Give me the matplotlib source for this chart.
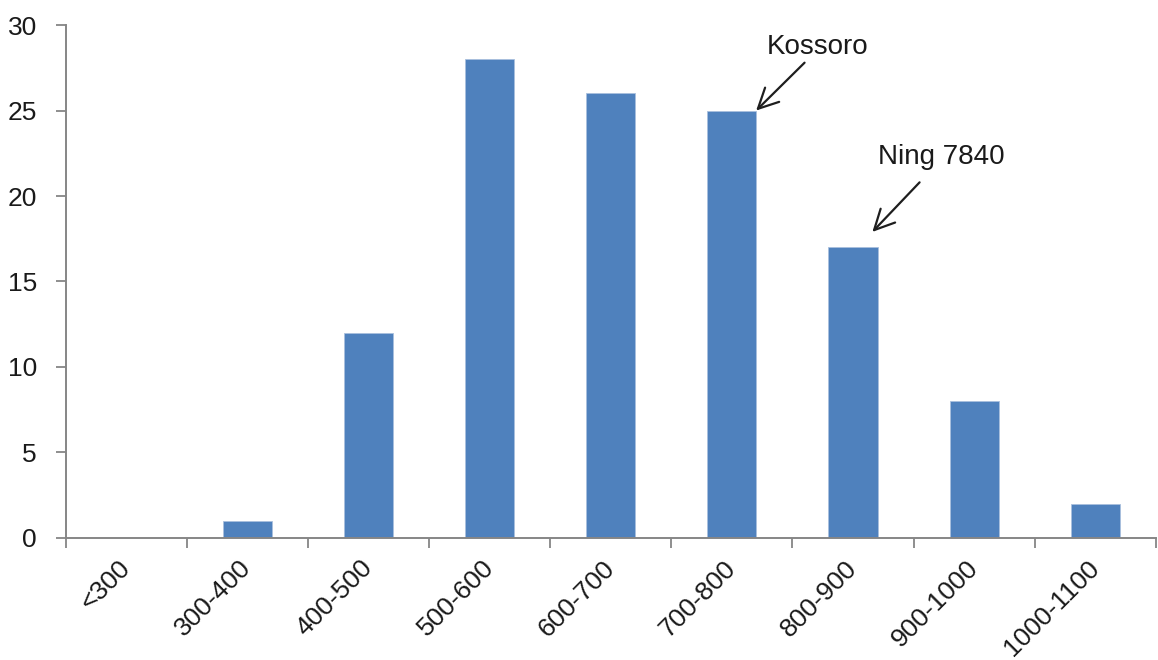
import numpy as np
import matplotlib
matplotlib.use("Agg")
import matplotlib.pyplot as plt

plt.rcParams['font.family'] = ['Liberation Sans', 'DejaVu Sans']

# size classes and counts
categories = ['<300', '300-400', '400-500', '500-600', '600-700',
              '700-800', '800-900', '900-1000', '1000-1100']
counts = [0, 1, 12, 28, 26, 25, 17, 8, 2]
y_ticks = [0, 5, 10, 15, 20, 25, 30]

# labelled varieties: text and the bar it points at
note_labels = ['Kossoro', 'Ning 7840']
note_bars = [5, 6]

bar_color = '#4f81bd'
axis_color = '#868686'
text_color = '#1a1a1a'

fig = plt.figure(figsize=(11.58, 6.6), dpi=100)
ax = fig.add_axes([0.057, 0.185, 0.941, 0.777])

x = np.arange(len(categories))
ax.bar(x, counts, width=0.405, color=bar_color, edgecolor='#a9c0de',
       linewidth=0.6, zorder=2)

ax.set_xlim(-0.5, len(categories) - 0.5)
ax.set_ylim(0, 30)

# ticks on the class boundaries, labels in the middle of each class
ax.set_xticks(np.arange(len(categories) + 1) - 0.5)
ax.set_xticklabels([])
ax.set_xticks(x, minor=True)
ax.set_xticklabels(categories, minor=True, rotation=45, ha='right',
                   va='center', rotation_mode='anchor')
ax.tick_params(axis='x', which='major', direction='out', length=7,
               width=1.3, color=axis_color)
ax.tick_params(axis='x', which='minor', length=0, pad=19,
               labelsize=19, labelcolor=text_color)

ax.set_yticks(y_ticks)
ax.tick_params(axis='y', direction='out', length=7, width=1.3,
               color=axis_color, pad=14, labelsize=19, labelcolor=text_color)

for side in ['top', 'right']:
    ax.spines[side].set_visible(False)
for side in ['left', 'bottom']:
    ax.spines[side].set_color(axis_color)
    ax.spines[side].set_linewidth(1.4)

# arrow tip, arrow tail and text position (data units) for each note
tips = [(5.2, 25.0), (6.16, 17.9)]
tails = [(5.6, 27.8), (6.55, 20.8)]
text_pos = [(5.71, 28.7), (6.73, 22.3)]
for label, bar, tip, tail, pos in zip(note_labels, note_bars, tips, tails, text_pos):
    ax.annotate('', xy=tip, xytext=tail,
                arrowprops=dict(arrowstyle='->', color='#1e1e1e', lw=1.6,
                                mutation_scale=36, shrinkA=0, shrinkB=0))
    ax.text(pos[0], pos[1], label, fontsize=20, color=text_color,
            ha='center', va='center')

fig.savefig('out.png', dpi=100, facecolor='white')
